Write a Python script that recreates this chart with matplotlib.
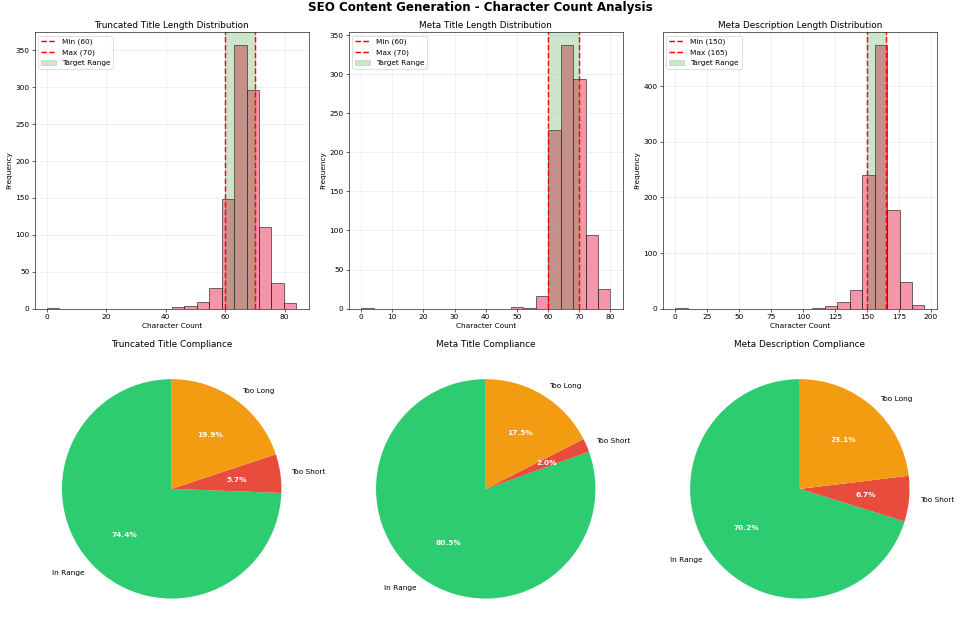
import numpy as np
import matplotlib
matplotlib.use("Agg")
import matplotlib.pyplot as plt

# ---- histogram data (20 bins between data min and max) ----
titles_hist = ["Truncated Title Length Distribution",
               "Meta Title Length Distribution",
               "Meta Description Length Distribution"]
data_range = [(0, 84), (0, 80), (0, 195)]
targets = [(60, 70), (60, 70), (150, 165)]

trunc_counts = [1, 0, 0, 0, 0, 0, 0, 0, 0, 0, 2, 4, 9, 28, 149, 357, 296, 111, 35, 7]
meta_title_counts = [1, 0, 0, 0, 0, 0, 0, 0, 0, 0, 0, 0, 2, 1, 16, 229, 337, 294, 94, 25]
meta_desc_counts = [1, 0, 0, 0, 0, 0, 0, 0, 0, 0, 0, 1, 5, 12, 34, 240, 474, 177, 48, 6]
hist_counts = [trunc_counts, meta_title_counts, meta_desc_counts]

# ---- compliance data ----
titles_pie = ["Truncated Title Compliance",
              "Meta Title Compliance",
              "Meta Description Compliance"]
pie_labels = ["In Range", "Too Short", "Too Long"]
trunc_pct = [74.4, 5.7, 19.9]
meta_title_pct = [80.5, 2.0, 17.5]
meta_desc_pct = [70.2, 6.7, 23.1]
pie_values = [trunc_pct, meta_title_pct, meta_desc_pct]
pie_colors = ["#2ecc71", "#e74c3c", "#f39c12"]

DPI = 960 / 18


def main():
    fig, axes = plt.subplots(2, 3, figsize=(18, 629 / DPI))
    fig.subplots_adjust(left=0.036, right=0.976, top=0.949, bottom=0.003,
                        wspace=0.145, hspace=0.152)
    fig.suptitle("SEO Content Generation - Character Count Analysis",
                 fontsize=16, fontweight="bold", y=0.998)

    for i in range(3):
        ax = axes[0, i]
        lo, hi = data_range[i]
        edges = np.linspace(lo, hi, 21)
        centers = (edges[:-1] + edges[1:]) / 2
        ax.hist(centers, bins=edges, weights=hist_counts[i], color="#f16986",
                alpha=0.7, edgecolor="black")
        tmin, tmax = targets[i]
        ax.axvline(tmin, color="red", linestyle="--", linewidth=2, label=f"Min ({tmin})")
        ax.axvline(tmax, color="red", linestyle="--", linewidth=2, label=f"Max ({tmax})")
        ax.axvspan(tmin, tmax, color="green", alpha=0.2, label="Target Range")
        ax.set_title(titles_hist[i])
        ax.set_xlabel("Character Count")
        ax.set_ylabel("Frequency")
        ax.grid(True, alpha=0.3)
        ax.legend(loc="upper left")

        ax = axes[1, i]
        _, _, autotexts = ax.pie(pie_values[i], labels=pie_labels, colors=pie_colors,
                                 autopct="%1.1f%%", startangle=90)
        for t in autotexts:
            t.set_color("white")
            t.set_fontweight("bold")
        ax.set_title(titles_pie[i])

    fig.savefig("out.png", dpi=DPI)


if __name__ == "__main__":
    main()
